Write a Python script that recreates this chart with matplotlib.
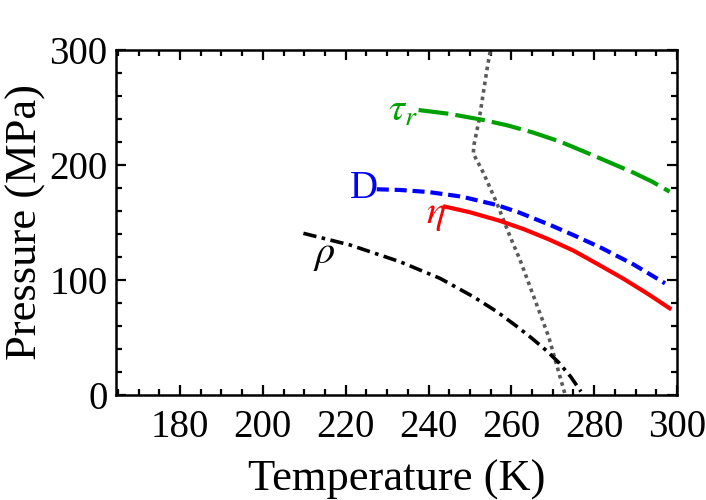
import numpy as np
import matplotlib
matplotlib.use("Agg")
import matplotlib.pyplot as plt
from matplotlib.ticker import MultipleLocator

plt.rcParams['font.family'] = ['Liberation Serif', 'DejaVu Serif']
plt.rcParams['mathtext.fontset'] = 'stix'

# tau_r (green, long dash)
tau_T = [237.6, 245.0, 253.3, 259.0, 265.0, 271.8, 277.0, 281.4, 289.5, 294.0, 298.2]
tau_P = [247.8, 244.5, 239.1, 234.5, 228.5, 220.3, 212.5, 205.8, 193.3, 185.5, 176.8]
# D (blue, short dash)
D_T = [227.5, 233.1, 240.0, 248.0, 256.5, 262.0, 269.4, 275.0, 281.4, 289.5, 297.1]
D_P = [178.9, 178.3, 176.5, 172.5, 165.2, 158.5, 147.8, 139.0, 128.5, 113.5, 97.1]
# eta (red, solid)
eta_T = [244.0, 250.0, 257.0, 263.0, 269.0, 275.0, 281.0, 287.0, 293.0, 298.2]
eta_P = [163.8, 158.9, 151.7, 144.2, 135.4, 125.5, 113.5, 101.2, 87.8, 75.4]
# rho (black, dash-dot)
rho_T = [209.8, 221.1, 233.1, 242.8, 250.8, 256.5, 261.0, 264.9, 268.5, 271.5, 274.3, 276.8]
rho_P = [140.6, 130.4, 115.9, 101.4, 85.5, 72.5, 60.5, 49.5, 38.5, 28.0, 16.0, 3.0]
# grey dotted boundary
bd_T = [255.2, 254.2, 253.2, 252.2, 251.0, 250.8, 253.3, 256.5, 259.7, 262.1, 269.0, 273.0]
bd_P = [305.0, 285.0, 262.0, 239.0, 218.0, 210.0, 192.8, 166.7, 137.7, 117.4, 50.7, 0.0]

fig = plt.figure(figsize=(7.06, 5.0), dpi=100)
ax = fig.add_axes([0.164, 0.21, 0.795, 0.69])

ax.plot(bd_T, bd_P, color='#5a5a5a', lw=2.6, dashes=(1.0, 1.1))
ax.plot(rho_T, rho_P, color='black', lw=2.6, dashes=(3.7, 1.5, 1.0, 1.5))
ax.plot(eta_T, eta_P, color='#ff0000', lw=3.0)
ax.plot(D_T, D_P, color='#0000ff', lw=3.0, dashes=(2.9, 1.4))
ax.plot(tau_T, tau_P, color='#00a000', lw=3.0, dashes=(7.2, 1.7))

ax.text(237.5, 247, r'$\tau_r$', color='#00a000', fontsize=29, ha='right', va='center')
ax.text(227.8, 180, 'D', color='#0000ff', fontsize=28, ha='right', va='center')
ax.text(244.2, 157, r'$\eta$', color='#ff0000', fontsize=29, ha='right', va='center')
ax.text(214.8, 122, r'$\rho$', color='black', fontsize=29, ha='center', va='center')

ax.set_xlim(164.5, 300)
ax.set_ylim(0, 300)
ax.xaxis.set_major_locator(MultipleLocator(20))
ax.xaxis.set_minor_locator(MultipleLocator(5))
ax.yaxis.set_major_locator(MultipleLocator(100))
ax.yaxis.set_minor_locator(MultipleLocator(20))
ax.tick_params(which='both', direction='in', top=True, right=True, width=1.6)
ax.tick_params(which='major', length=7.5, labelsize=28)
ax.tick_params(axis='x', which='major', pad=10)
ax.tick_params(axis='y', which='major', pad=6)
ax.tick_params(which='minor', length=4)
for s in ax.spines.values():
    s.set_linewidth(1.8)

ax.set_xlabel('Temperature (K)', fontsize=32, labelpad=10)
ax.set_ylabel('Pressure (MPa)', fontsize=32, labelpad=2)

fig.savefig('out.png', dpi=100)
